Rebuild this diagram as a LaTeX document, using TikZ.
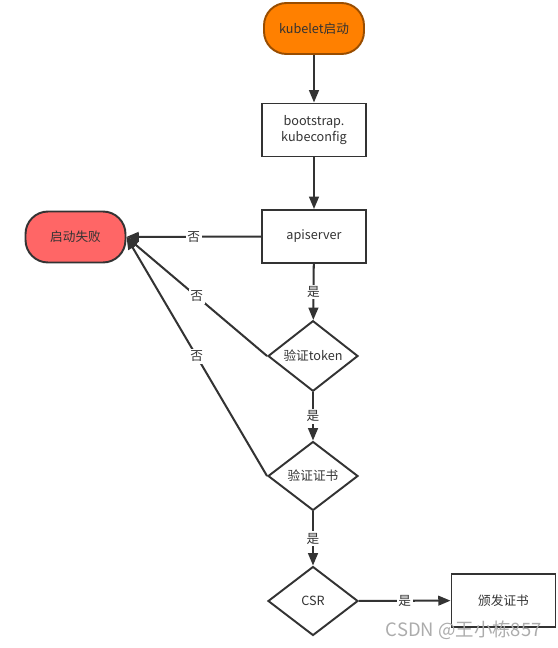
\documentclass[tikz,border=0pt]{standalone}
\usepackage{fontspec}
\setmainfont{Noto Sans CJK SC}
\usetikzlibrary{shapes.geometric,arrows.meta}
\definecolor{orangeF}{HTML}{FF8000}
\definecolor{redF}{HTML}{FF6666}
\definecolor{lineC}{HTML}{333333}
\tikzset{
  base/.style={draw=lineC, line width=1.1pt, font=\fontsize{7.2pt}{9pt}\selectfont, text=black!80, align=center, inner sep=0pt},
  term/.style={base, rectangle, rounded corners=0.45cm, minimum width=2cm, minimum height=1.02cm},
  procbox/.style={base, rectangle, minimum width=2.08cm, minimum height=1.06cm},
  decide/.style={base, diamond, minimum width=1.8cm, minimum height=1.38cm},
  conn/.style={draw=lineC, line width=1.15pt, -{Triangle[length=7pt,width=5.5pt]}},
  lbl/.style={fill=white, inner sep=1pt, font=\fontsize{7.2pt}{9pt}\selectfont, text=black!80}
}
\begin{document}
\begin{tikzpicture}[x=0.02cm,y=-0.02cm]
\useasboundingbox (0,0) rectangle (557,648);
\node[term, fill=orangeF, draw=orangeF!60!black] (start) at (314,28.5) {kubelet启动};
\node[procbox] (boot) at (314,130) {bootstrap.\\kubeconfig};
\node[procbox] (api) at (314,236.5) {apiserver};
\node[term, fill=redF, draw=lineC] (fail) at (75.5,237) {启动失败};
\node[decide] (token) at (313,356) {验证token};
\node[decide] (cert) at (313,476) {验证证书};
\node[decide] (csr) at (313,601) {CSR};
\node[procbox] (issue) at (503.5,600.5) {颁发证书};

\draw[conn] (start) -- (boot);
\draw[conn] (boot) -- (api);
\draw[conn] (api) -- node[lbl] {否} (fail);
\draw[conn] (api) -- node[lbl, pos=0.5] {是} (token);
\draw[conn] (token.west) -- node[lbl, pos=0.5] {否} (fail.east);
\draw[conn] (cert.west) -- node[lbl, pos=0.5] {否} (fail.east);
\draw[conn] (token) -- node[lbl] {是} (cert);
\draw[conn] (cert) -- node[lbl] {是} (csr);
\draw[conn] (csr) -- node[lbl] {是} (issue);

\node[font=\fontsize{10.5pt}{12pt}\selectfont, text=gray!65, anchor=east, inner sep=0pt] (wm) at (542,630) {CSDN @王小栋857};
\end{tikzpicture}
\end{document}
